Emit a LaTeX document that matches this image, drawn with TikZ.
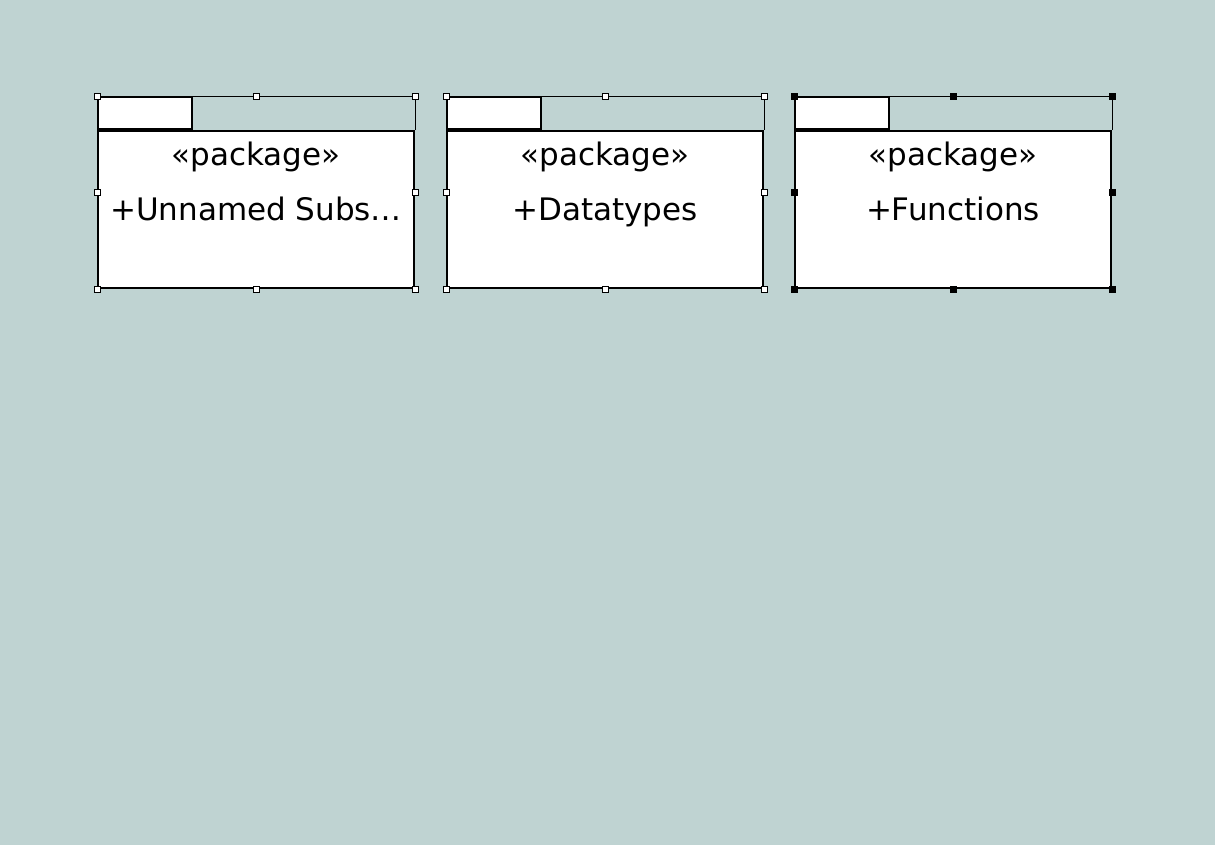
\documentclass[tikz,border=0pt]{standalone}
\usepackage{fontspec}
\setmainfont{DejaVu Sans}
\usetikzlibrary{positioning,calc}

\definecolor{canvasbg}{RGB}{191,211,210}

\tikzset{
    pkgbody/.style = {draw, fill=white, line width=2pt, minimum width=316pt,
        minimum height=157pt, inner sep=0pt, anchor=north west},
    pkgtab/.style = {draw, fill=white, line width=2pt, minimum width=94pt,
        minimum height=32pt, inner sep=0pt, anchor=south west},
    pkgtext/.style = {font=\fontsize{31}{37}\selectfont, inner sep=0pt},
    selline/.style = {line width=0.8pt},
    handle/.style = {draw, fill=white, line width=0.8pt, minimum size=6pt,
        inner sep=0pt},
    handlesel/.style = {handle, fill=black}
}

\begin{document}
\begin{tikzpicture}[x=1pt, y=-1pt]
        \useasboundingbox (0,0) rectangle (1231,861);
        \fill[white] (0,0) rectangle (1231,861);
        \fill[canvasbg] (0,0) rectangle (1215,845);

        % packages
        \node[pkgbody] (subs) at (97,130) {};
        \node[pkgtab] (substab) at (subs.north west) {};
        \node[pkgbody] (types) at (446,130) {};
        \node[pkgtab] (typestab) at (types.north west) {};
        \node[pkgbody] (funcs) at (794,130) {};
        \node[pkgtab] (funcstab) at (funcs.north west) {};

        % labels
        \node[pkgtext, below=36pt of subs.north, anchor=base] (subsst) {«package»};
        \node[pkgtext, below=90pt of subs.north, anchor=base] (subsname) {+Unnamed Subs…};
        \node[pkgtext, below=36pt of types.north, anchor=base] (typesst) {«package»};
        \node[pkgtext, below=90pt of types.north, anchor=base] (typesname) {+Datatypes};
        \node[pkgtext, below=36pt of funcs.north, anchor=base] (funcsst) {«package»};
        \node[pkgtext, below=90pt of funcs.north, anchor=base] (funcsname) {+Functions};

        % selection frames and handles
        \foreach \p/\h in {subs/handle, types/handle, funcs/handlesel} {
            \draw[selline] (\p tab.north east) -| (\p.north east);
            \coordinate (\p nw) at (\p tab.north west);
            \coordinate (\p ne) at (\p tab.north west -| \p.east);
            \coordinate (\p n) at (\p tab.north west -| \p.north);
            \coordinate (\p mid) at ($(\p nw)!0.5!(\p.south west)$);
            \node[\h] at (\p nw) {};
            \node[\h] at (\p n) {};
            \node[\h] at (\p ne) {};
            \node[\h] at (\p mid) {};
            \node[\h] at (\p mid -| \p.east) {};
            \node[\h] at (\p.south west) {};
            \node[\h] at (\p.south) {};
            \node[\h] at (\p.south east) {};
        }
    \end{tikzpicture}
\end{document}
